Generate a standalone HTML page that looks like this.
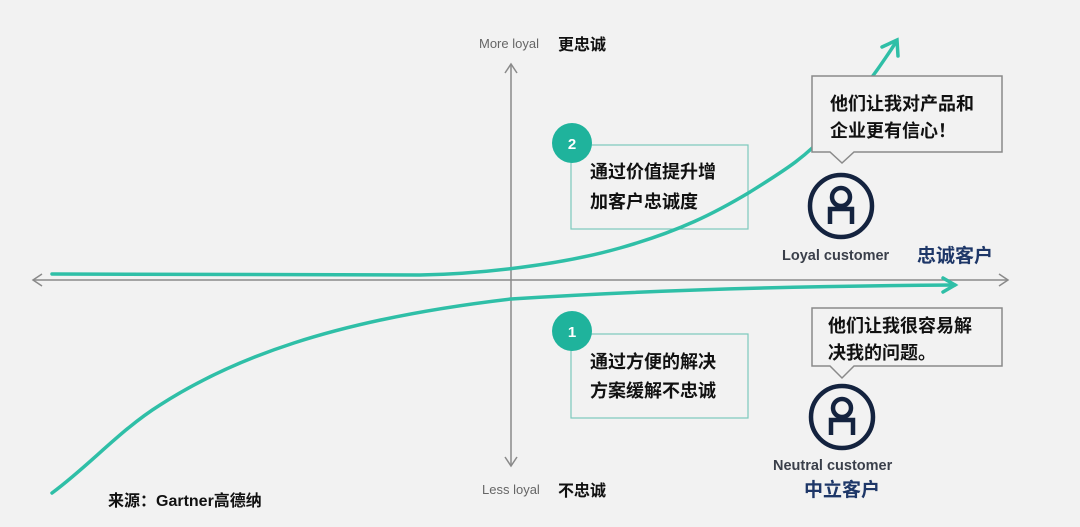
<!DOCTYPE html>
<html><head><meta charset="utf-8"><style>
html,body{margin:0;padding:0;background:#f2f2f2;}
svg{display:block;}
.cn{font-family:"Liberation Sans","Noto Sans CJK SC",sans-serif;font-weight:bold;}
</style></head><body>
<svg width="1080" height="527" viewBox="0 0 1080 527" xmlns="http://www.w3.org/2000/svg">
<rect width="1080" height="527" fill="#f2f2f2"/>
<!-- axes -->
<g stroke="#8a8a8a" stroke-width="1.5" fill="none">
<line x1="33" y1="280" x2="1008" y2="280"/>
<polyline points="42,274 33,280 42,286"/>
<polyline points="999,274 1008,280 999,286"/>
<line x1="511" y1="64" x2="511" y2="466"/>
<polyline points="505,73 511,64 517,73"/>
<polyline points="505,457 511,466 517,457"/>
</g>
<!-- boxes -->
<rect x="571" y="145" width="177" height="84" fill="none" stroke="#7cc9bc" stroke-width="1.2"/>
<rect x="571" y="334" width="177" height="84" fill="none" stroke="#7cc9bc" stroke-width="1.2"/>
<!-- curves -->
<g stroke="#2fbfa7" stroke-width="3.5" fill="none" stroke-linecap="round">
<path d="M52,274 L420,275 C480,274 560,265 620,248 C680,231 715,213 750,192 C785,170 805,158 830,130 C855,100 875,75 896,42"/>
<polyline points="882,47 897,40 898,56"/>
<path d="M52,493 C90,465 120,430 160,405 C230,360 330,320 511,299 C650,290 800,286 955,285"/>
<polyline points="943,278 955,285 943,292"/>
</g>
<circle cx="572" cy="143" r="20" fill="#1fb39c"/>
<text x="572" y="149" text-anchor="middle" fill="#fff" font-family="Liberation Sans,sans-serif" font-weight="bold" font-size="15">2</text>
<text class="cn" x="590" y="178" font-size="18" fill="#111">通过价值提升增</text>
<text class="cn" x="590" y="208" font-size="18" fill="#111">加客户忠诚度</text>
<circle cx="572" cy="331" r="20" fill="#1fb39c"/>
<text x="572" y="337" text-anchor="middle" fill="#fff" font-family="Liberation Sans,sans-serif" font-weight="bold" font-size="15">1</text>
<text class="cn" x="590" y="368" font-size="18" fill="#111">通过方便的解决</text>
<text class="cn" x="590" y="397" font-size="18" fill="#111">方案缓解不忠诚</text>
<!-- bubbles -->
<path d="M812,76 H1002 V152 H854 L842,163 L830,152 H812 Z" fill="#f2f2f2" stroke="#8a8a8a" stroke-width="1.5"/>
<text class="cn" x="830" y="110" font-size="18" fill="#111">他们让我对产品和</text>
<text class="cn" x="830" y="137" font-size="18" fill="#111">企业更有信心！</text>
<path d="M812,308 H1002 V366 H854 L842,378 L830,366 H812 Z" fill="#f2f2f2" stroke="#8a8a8a" stroke-width="1.5"/>
<text class="cn" x="828" y="332" font-size="18" fill="#111">他们让我很容易解</text>
<text class="cn" x="828" y="359" font-size="18" fill="#111">决我的问题。</text>
<!-- icons -->
<g stroke="#14233f" fill="none" stroke-width="4.5">
<circle cx="841" cy="206" r="31"/>
<circle cx="841" cy="197" r="9"/>
<path d="M830,224 V209 H852 V224"/>
<circle cx="842" cy="417" r="31"/>
<circle cx="842" cy="408" r="9"/>
<path d="M831,435 V420 H853 V435"/>
</g>
<!-- labels -->
<text x="782" y="260" font-family="Liberation Sans,sans-serif" font-weight="bold" font-size="14.5" fill="#3a3f4a">Loyal customer</text>
<text class="cn" x="917" y="262" font-size="19" fill="#1e3768">忠诚客户</text>
<text x="773" y="470" font-family="Liberation Sans,sans-serif" font-weight="bold" font-size="14.5" fill="#3a3f4a">Neutral customer</text>
<text class="cn" x="804" y="496" font-size="19" fill="#1e3768">中立客户</text>
<text x="479" y="48" font-family="Liberation Sans,sans-serif" font-size="13" fill="#666">More loyal</text>
<text class="cn" x="558" y="50" font-size="16" fill="#111">更忠诚</text>
<text x="482" y="494" font-family="Liberation Sans,sans-serif" font-size="13" fill="#666">Less loyal</text>
<text class="cn" x="558" y="496" font-size="16" fill="#111">不忠诚</text>
<text class="cn" x="108" y="506" font-size="16" fill="#111">来源：Gartner高德纳</text>
</svg>
</body></html>
